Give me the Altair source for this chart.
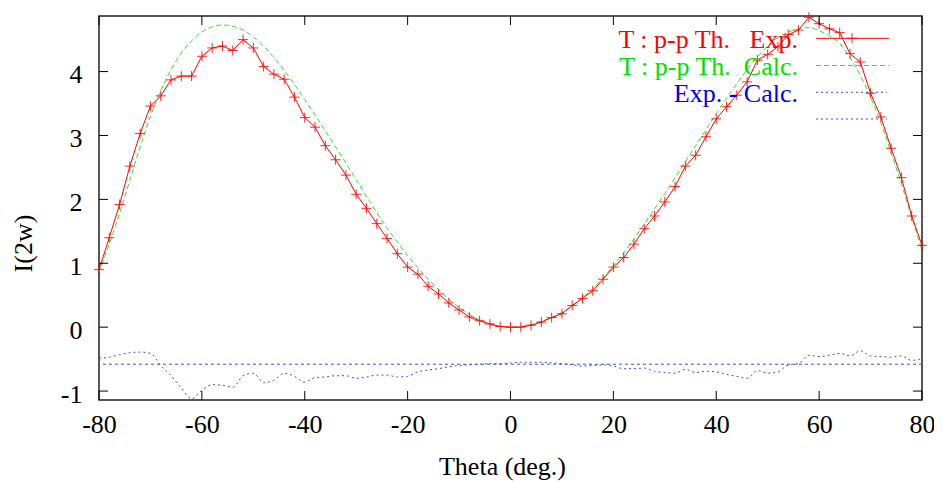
import altair as alt
import pandas as pd

# ---------------- data ----------------
theta = list(range(-80, 81, 2))

exp_vals = [0.90, 1.40, 1.92, 2.52, 3.03, 3.46, 3.62, 3.87, 3.93, 3.93,
            4.24, 4.37, 4.40, 4.33, 4.50, 4.37, 4.08, 3.96, 3.88, 3.60,
            3.28, 3.13, 2.84, 2.62, 2.38, 2.08, 1.86, 1.62, 1.39, 1.15,
            0.94, 0.83, 0.64, 0.52, 0.38, 0.27, 0.16, 0.10, 0.05, 0.01,
            0.00,
            0.00, 0.03, 0.08, 0.15, 0.21, 0.34, 0.45, 0.57, 0.75, 0.94,
            1.09, 1.30, 1.54, 1.74, 1.96, 2.20, 2.52, 2.69, 2.98, 3.26,
            3.45, 3.63, 3.84, 4.18, 4.27, 4.39, 4.58, 4.65, 4.85, 4.75,
            4.67, 4.61, 4.28, 4.15, 3.66, 3.29, 2.80, 2.34, 1.74, 1.28]

calc_vals = [0.86, 1.30, 1.78, 2.30, 2.82, 3.30, 3.70, 4.03, 4.29, 4.48,
             4.62, 4.70, 4.73, 4.71, 4.65, 4.54, 4.40, 4.22, 4.02, 3.80,
             3.56, 3.32, 3.07, 2.82, 2.57, 2.31, 2.05, 1.79, 1.55, 1.33,
             1.12, 0.93, 0.75, 0.59, 0.44, 0.31, 0.20, 0.11, 0.05, 0.01,
             0.00,
             0.01, 0.04, 0.09, 0.15, 0.23, 0.33, 0.46, 0.60, 0.77, 0.96,
             1.16, 1.38, 1.61, 1.85, 2.09, 2.34, 2.59, 2.84, 3.09, 3.34,
             3.58, 3.81, 4.03, 4.23, 4.40, 4.53, 4.62, 4.67, 4.69, 4.64,
             4.56, 4.44, 4.22, 3.94, 3.60, 3.20, 2.73, 2.24, 1.72, 1.20]

diff_vals = [-0.49, -0.47, -0.43, -0.40, -0.39, -0.41, -0.60, -0.76, -0.95, -1.12,
             -0.99, -0.90, -0.91, -0.94, -0.76, -0.72, -0.87, -0.83, -0.72, -0.77,
             -0.86, -0.79, -0.78, -0.76, -0.76, -0.80, -0.78, -0.75, -0.75, -0.78,
             -0.77, -0.70, -0.67, -0.65, -0.62, -0.60, -0.59, -0.58, -0.57, -0.57,
             -0.56,
             -0.55, -0.55, -0.55, -0.56, -0.57, -0.59, -0.61, -0.60, -0.59, -0.61,
             -0.65, -0.65, -0.64, -0.69, -0.71, -0.72, -0.66, -0.71, -0.69, -0.70,
             -0.74, -0.77, -0.80, -0.68, -0.72, -0.70, -0.59, -0.57, -0.44, -0.46,
             -0.44, -0.41, -0.45, -0.37, -0.45, -0.46, -0.47, -0.45, -0.52, -0.49]

offset_level = [-0.58]

x_ticks = [-80, -60, -40, -20, 0, 20, 40, 60, 80]
y_ticks = [-1, 0, 1, 2, 3, 4]

legend_labels = ["T : p-p Th.\u00a0\u00a0\u00a0Exp.",
                 "T : p-p Th.\u00a0\u00a0Calc.",
                 "Exp. - Calc.",
                 ""]

# ---------------- styling ----------------
W, H = 823, 384
FONT = "Liberation Serif, Times New Roman, DejaVu Serif, serif"
FS = 26
RED = "#ff0000"
GREEN = "#33dd33"
BLUE = "#4a4ad6"
TXT_RED = "#ff0000"
TXT_GREEN = "#00e000"
TXT_BLUE = "#0000ee"
CROSS = "M-1,0L1,0M0,-1L0,1"

df = pd.DataFrame({"theta": theta, "exp": exp_vals, "calc": calc_vals, "diff": diff_vals})

xs = alt.Scale(domain=[-80, 80], nice=False, zero=False)
ys = alt.Scale(domain=[-1.14, 4.87], nice=False, zero=False)

xax = alt.Axis(values=x_ticks, labelExpr="toString(datum.value)", ticks=False, tickSize=0,
               domain=False, grid=False, labelFont=FONT, labelFontSize=FS, labelColor="black",
               labelPadding=11, labelFlush=False, labelOverlap=False,
               title="Theta (deg.)", titleFont=FONT, titleFontSize=FS, titleFontWeight="normal",
               titleColor="black", titleX=403, titleY=74, titleBaseline="alphabetic",
               titleAlign="center")
yax = alt.Axis(values=y_ticks, labelExpr="toString(datum.value)", ticks=False, tickSize=0,
               domain=False, grid=False, labelFont=FONT, labelFontSize=FS, labelColor="black",
               labelPadding=17, labelOffset=3, labelFlush=False, labelOverlap=False,
               title="I(2w)", titleFont=FONT, titleFontSize=FS, titleFontWeight="normal",
               titleColor="black", titleAngle=270, titleX=-76, titleY=227,
               titleBaseline="middle", titleAlign="center")

X = alt.X("theta:Q", scale=xs, axis=xax)
base = alt.Chart(df)

exp_line = base.mark_line(color=RED, strokeWidth=1).encode(
    x=X, y=alt.Y("exp:Q", scale=ys, axis=yax))
exp_pts = base.mark_point(shape=CROSS, size=100, filled=False, color=RED,
                          strokeWidth=1, opacity=0.85).encode(
    x=X, y=alt.Y("exp:Q", scale=ys, axis=yax))
calc_line = base.mark_line(color=GREEN, strokeWidth=1, strokeDash=[5, 3],
                           interpolate="monotone").encode(
    x=X, y=alt.Y("calc:Q", scale=ys, axis=yax))
diff_line = base.mark_line(color=BLUE, strokeWidth=1, strokeDash=[2, 3],
                           interpolate="monotone").encode(
    x=X, y=alt.Y("diff:Q", scale=ys, axis=yax))
off_rule = alt.Chart(pd.DataFrame({"level": offset_level})).mark_rule(
    color=BLUE, strokeWidth=1, strokeDash=[3, 3]).encode(
    y=alt.Y("level:Q", scale=ys, axis=yax))

# inward ticks on all four sides (gnuplot style)
xt = alt.Chart(pd.DataFrame({"t": x_ticks}))
yt = alt.Chart(pd.DataFrame({"v": y_ticks}))
XT = alt.X("t:Q", scale=xs, axis=xax)
YT = alt.Y("v:Q", scale=ys, axis=yax)
tick_b = xt.mark_rule(color="black", strokeWidth=1).encode(x=XT, y=alt.value(H), y2=alt.value(H - 9))
tick_t = xt.mark_rule(color="black", strokeWidth=1).encode(x=XT, y=alt.value(0), y2=alt.value(9))
tick_l = yt.mark_rule(color="black", strokeWidth=1).encode(y=YT, x=alt.value(0), x2=alt.value(9))
tick_r = yt.mark_rule(color="black", strokeWidth=1).encode(y=YT, x=alt.value(W), x2=alt.value(W - 9))

# legend (gnuplot style: right-aligned text, sample to the right)
leg_colors = [TXT_RED, TXT_GREEN, TXT_BLUE, TXT_BLUE]
line_colors = [RED, GREEN, BLUE, BLUE]
dashes = [None, [5, 3], [2, 3], [2, 3]]
row_y = [22.3, 49.5, 76.3, 103.0]
legend_layers = []
for i, lab in enumerate(legend_labels):
    ldf = pd.DataFrame({"label": [lab]})
    if lab:
        legend_layers.append(
            alt.Chart(ldf).mark_text(font=FONT, fontSize=FS, align="right",
                                     baseline="alphabetic", color=leg_colors[i]).encode(
                text="label:N", x=alt.value(699), y=alt.value(row_y[i] + 9.5)))
    kw = dict(color=line_colors[i], strokeWidth=1)
    if dashes[i]:
        kw["strokeDash"] = dashes[i]
    x2 = 790 if i < 2 else 788
    legend_layers.append(
        alt.Chart(ldf).mark_rule(**kw).encode(
            x=alt.value(717), x2=alt.value(x2), y=alt.value(row_y[i])))
legend_layers.append(
    alt.Chart(pd.DataFrame({"label": ["Exp."]})).mark_point(
        shape=CROSS, size=100, filled=False, color=RED, strokeWidth=1, opacity=0.85).encode(
        x=alt.value(753), y=alt.value(row_y[0])))

chart = alt.layer(
    off_rule, diff_line, calc_line, exp_line, exp_pts,
    tick_b, tick_t, tick_l, tick_r, *legend_layers
).properties(
    width=W, height=H,
    padding={"left": 91, "top": 8, "right": 12, "bottom": 83},
    autosize=alt.AutoSizeParams(type="none"),
    background="white",
).configure_view(stroke="#222222", strokeWidth=1.5)

chart.save("out.html", embed_options={"renderer": "svg", "actions": False})
